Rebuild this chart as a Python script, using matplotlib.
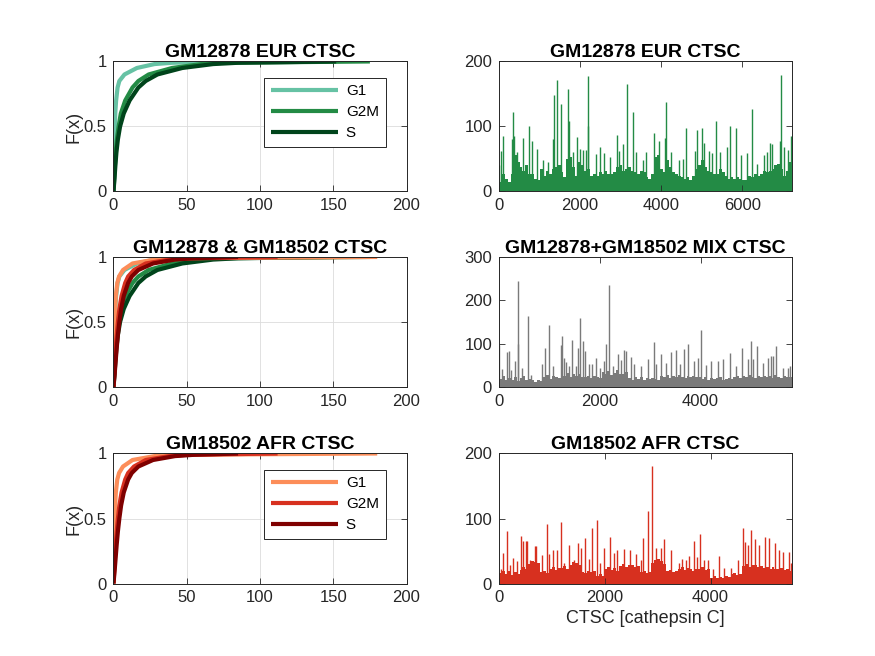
import matplotlib
matplotlib.use('Agg')
import matplotlib.pyplot as plt
import numpy as np

plt.rcParams['font.family'] = ['Liberation Sans', 'DejaVu Sans']

# ── CDF data: x value reached at each F(x) level ──────────────────────────────
F_LEVELS = [0, 0.1, 0.2, 0.3, 0.4, 0.5, 0.6, 0.7, 0.8, 0.85, 0.9, 0.95, 0.98, 0.99, 1.0]

eur_g1  = [0, 0.3, 0.5, 0.7, 0.9, 1.0, 1.2, 1.8, 2.8, 4.0, 7.5, 16, 28, 40, 80]
eur_g2m = [0, 0.5, 1.0, 1.5, 2.3, 3.5, 5.0, 8.0, 13, 17, 24, 40, 60, 75, 175]
eur_s   = [0, 0.7, 1.3, 2.0, 3.0, 4.5, 7.0, 11, 17, 22, 30, 47, 68, 85, 152]

afr_g1  = [0, 0.2, 0.4, 0.5, 0.6, 0.8, 1.1, 1.6, 2.6, 3.8, 6.5, 13, 28, 45, 180]
afr_g2m = [0, 0.5, 1.0, 1.5, 2.2, 3.0, 4.0, 5.5, 8.0, 10, 14, 22, 38, 50, 112]
afr_s   = [0, 0.8, 1.5, 2.2, 3.0, 4.0, 5.2, 7.0, 10, 12.5, 17, 27, 42, 55, 85]

PHASES = ["G1", "G2M", "S"]

# ── per-cell CTSC values (right column) ───────────────────────────────────────
n_cells = [7226, 5815, 5540]

# dense low mass, one value per equal-width block of cells
eur_mass = [14, 27, 19, 15, 27, 56, 45, 37, 32, 40, 27, 27, 19, 17, 35, 24, 32, 27, 35, 37,
            40, 30, 22, 50, 53, 37, 24, 45, 40, 32, 35, 24, 27, 24, 30, 27, 32, 27, 27, 30,
            37, 40, 32, 35, 37, 32, 30, 27, 32, 30,
            22, 19, 27, 53, 56, 35, 30, 48, 37, 30, 27, 24, 22, 19, 22, 17, 24, 35, 40, 48,
            37, 32, 30, 27, 27, 35, 30, 24, 19, 22, 19, 22, 19, 17, 17, 24, 22, 27, 24, 27,
            32, 30, 32, 35, 40, 43, 35, 24, 32, 45]
mix_mass = [19, 25, 15, 21, 17, 23, 13, 20, 25, 16, 19, 15, 12, 17, 14,
            23, 27, 19, 25, 22, 21, 29, 25, 33, 23, 30, 26, 31, 24,
            22, 26, 20, 25, 23, 21, 35, 30, 37, 28, 33, 39, 31, 29, 34,
            21, 17, 23, 19, 22, 16, 20, 18, 21, 19, 17,
            25, 22, 27, 21, 26, 23, 28, 24, 20, 25, 23, 26, 22, 24,
            19, 22, 17, 21, 18, 20, 23, 16, 19, 21, 18,
            23, 26, 21, 25, 22, 27, 24, 20, 25, 23, 26,
            22, 25, 21, 27, 23, 20, 26, 24, 22]
afr_mass = [16, 20, 14, 19, 13, 17, 15, 21, 25, 22, 30, 35, 33, 31, 17, 20, 16,
            22, 25, 21, 24, 24, 27, 23, 29, 33, 31, 28, 18, 16, 20, 17, 19,
            12, 14, 11, 22, 25, 21, 24, 20, 27, 30, 26, 29, 28, 25, 27,
            17, 19, 16, 18, 32, 36, 38, 34, 30, 19, 21, 18, 20,
            22, 25, 21, 24, 23, 20, 22, 23, 25, 21, 22,
            9, 11, 8, 10, 9, 12, 10, 14, 16, 13, 15,
            27, 30, 26, 29, 28, 25, 27, 24, 26, 23, 25, 22, 22, 24, 21, 23, 20]

# individual cells standing out above the mass
eur_idx = [5, 58, 90, 312, 337, 370, 436, 600, 732, 806, 929, 1093, 1217, 1340,
           1365, 1430, 1537, 1710, 1734, 1817, 1932, 1989, 2080, 2154, 2187, 2203,
           2392, 2491, 2598, 2745, 2918, 2951, 3066, 3165, 3296, 3378, 3543, 3617,
           3823, 3946, 4086, 4127, 4234, 4439, 4546, 4612, 4825, 4891, 5014, 5056,
           5179, 5261, 5343, 5450, 5631, 5689, 5853, 5960, 6124, 6231, 6354, 6535,
           6601, 6683, 6724, 6930, 6946, 7028, 7127, 7193]
eur_val = [40, 63, 85, 81, 122, 85, 61, 82, 100, 78, 65, 48, 45, 81,
           149, 171, 134, 157, 108, 60, 84, 65, 64, 64, 100, 177,
           58, 69, 59, 53, 87, 63, 73, 165, 122, 60, 48, 61,
           90, 77, 82, 138, 60, 48, 50, 98, 63, 94, 98, 75,
           62, 59, 108, 61, 69, 100, 98, 56, 59, 127, 43, 56,
           60, 75, 73, 77, 179, 69, 64, 86]

mix_idx = [7, 66, 165, 198, 238, 317, 370, 383, 449, 581, 627, 845, 911, 997,
           1076, 1221, 1241, 1287, 1327, 1393, 1439, 1525, 1571, 1617, 1657, 1716,
           1782, 1855, 1934, 2000, 2092, 2132, 2178, 2264, 2369, 2429, 2482, 2528,
           2614, 2673, 2825, 2957, 3069, 3122, 3221, 3320, 3419, 3505, 3584, 3670,
           3755, 3861, 3947, 4013, 4112, 4211, 4343, 4442, 4587, 4706, 4818, 4937,
           5003, 5036, 5122, 5234, 5333, 5399, 5445, 5504, 5630, 5729, 5782]
mix_val = [96, 41, 80, 82, 40, 59, 100, 244, 44, 163, 28, 54, 90, 142,
           48, 98, 118, 67, 57, 48, 108, 48, 90, 158, 105, 82,
           52, 52, 67, 44, 59, 99, 236, 48, 75, 63, 85, 84,
           70, 52, 48, 65, 104, 53, 75, 55, 80, 85, 53, 87,
           100, 59, 68, 132, 50, 61, 59, 65, 78, 48, 90, 65,
           105, 65, 95, 55, 67, 72, 71, 94, 44, 44, 48]

afr_idx = [32, 82, 158, 209, 272, 335, 411, 462, 506, 538, 589, 671, 696, 810,
           905, 943, 1013, 1095, 1165, 1222, 1329, 1412, 1494, 1557, 1633, 1703,
           1766, 1848, 1918, 1994, 2089, 2171, 2234, 2361, 2475, 2583, 2678, 2728,
           2823, 2893, 2975, 3057, 3121, 3247, 3406, 3463, 3532, 3589, 3678, 3741,
           3804, 3880, 3956, 4039, 4165, 4260, 4387, 4513, 4615, 4659, 4703, 4766,
           4849, 4912, 5020, 5108, 5222, 5292, 5368, 5482, 5526]
afr_val = [23, 47, 81, 28, 39, 35, 73, 66, 65, 65, 36, 58, 57, 44,
           92, 46, 51, 51, 94, 31, 59, 36, 62, 54, 70, 38,
           85, 98, 31, 54, 71, 47, 52, 53, 52, 46, 36, 70,
           111, 180, 55, 54, 69, 51, 31, 38, 36, 43, 66, 41,
           76, 36, 36, 23, 43, 24, 24, 36, 86, 64, 59, 83,
           69, 59, 72, 70, 62, 51, 48, 48, 31]

GREENS = ["#66c2a4", "#238b45", "#00441b"]
REDS   = ["#fc8d59", "#d7301f", "#7f0000"]
GRAY   = "#7a7a7a"
AXCOL  = "#262626"

fig = plt.figure(figsize=(8.75, 6.56), dpi=100, facecolor="white")

LEFT_X, RIGHT_X, W, H = 0.1297, 0.5703, 0.3349, 0.1982
ROW_Y = [0.7081, 0.4101, 0.1105]


def style(ax, grid):
    ax.tick_params(direction="in", top=True, right=True, length=4,
                   width=0.6, colors=AXCOL, labelsize=12, pad=5)
    for s in ax.spines.values():
        s.set_color(AXCOL)
        s.set_linewidth(0.7)
    if grid:
        ax.grid(True, color="#dcdcdc", linewidth=0.6)
        ax.set_axisbelow(True)


def cdf_panel(ax, series, colors, title, legend):
    for xs, col, lab in zip(series, colors * 2, PHASES * 2):
        ax.plot(xs, F_LEVELS, color=col, lw=3, label=lab, solid_capstyle="butt")
    ax.set_xlim(0, 200)
    ax.set_ylim(0, 1)
    ax.set_xticks([0, 50, 100, 150, 200])
    ax.set_yticks([0, 0.5, 1])
    ax.set_yticklabels(["0", "0.5", "1"])
    ax.set_ylabel("F(x)", fontsize=13, color=AXCOL, labelpad=1)
    ax.set_title(title, fontsize=14, fontweight="bold", pad=3)
    style(ax, True)
    if legend:
        h, l = ax.get_legend_handles_labels()
        leg = ax.legend(h[:3], l[:3], loc="upper right", bbox_to_anchor=(0.955, 0.935),
                        fontsize=11, handlelength=4.4, labelspacing=0.45,
                        borderpad=0.45, handletextpad=0.5, fancybox=False,
                        framealpha=1, edgecolor=AXCOL)
        leg.get_frame().set_linewidth(0.7)


def cell_panel(ax, n, mass, idx, val, col, title, yticks):
    seg = n / len(mass)
    ax.bar(np.arange(len(mass)) * seg, mass, width=seg, align="edge",
           color=col, linewidth=0)
    ax.vlines(idx, 0, val, color=col, lw=1.0)
    ax.set_xlim(0, n)
    ax.set_ylim(0, yticks[-1])
    ax.set_yticks(yticks)
    ax.set_xticks(np.arange(0, n, 2000))
    ax.set_title(title, fontsize=14, fontweight="bold", pad=3)
    style(ax, False)


ax1 = fig.add_axes([LEFT_X, ROW_Y[0], W, H])
cdf_panel(ax1, [eur_g1, eur_g2m, eur_s], GREENS, "GM12878 EUR CTSC", True)
ax3 = fig.add_axes([LEFT_X, ROW_Y[1], W, H])
cdf_panel(ax3, [eur_g1, eur_g2m, eur_s, afr_g1, afr_g2m, afr_s],
          GREENS + REDS, "GM12878 & GM18502 CTSC", False)
ax5 = fig.add_axes([LEFT_X, ROW_Y[2], W, H])
cdf_panel(ax5, [afr_g1, afr_g2m, afr_s], REDS, "GM18502 AFR CTSC", True)

ax2 = fig.add_axes([RIGHT_X, ROW_Y[0], W, H])
cell_panel(ax2, n_cells[0], eur_mass, eur_idx, eur_val, GREENS[1],
           "GM12878 EUR CTSC", [0, 100, 200])
ax4 = fig.add_axes([RIGHT_X, ROW_Y[1], W, H])
cell_panel(ax4, n_cells[1], mix_mass, mix_idx, mix_val, GRAY,
           "GM12878+GM18502 MIX CTSC", [0, 100, 200, 300])
ax6 = fig.add_axes([RIGHT_X, ROW_Y[2], W, H])
cell_panel(ax6, n_cells[2], afr_mass, afr_idx, afr_val, REDS[1],
           "GM18502 AFR CTSC", [0, 100, 200])
ax6.set_xlabel("CTSC [cathepsin C]", fontsize=13, color=AXCOL, labelpad=3)

fig.savefig("out.png", dpi=100, facecolor="white")
